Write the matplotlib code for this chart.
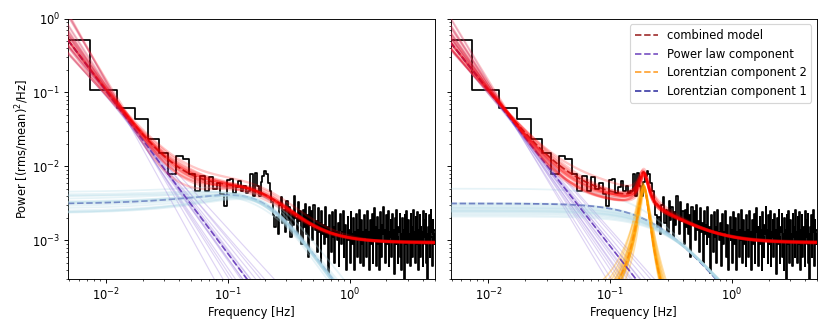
import numpy as np
import matplotlib
matplotlib.use('Agg')
import matplotlib.pyplot as plt

# ---------------- data: log-rebinned averaged power spectrum ----------------
df = 1 / 204.8          # native frequency resolution [Hz]
rebin_factor = 0.01     # logarithmic rebinning factor
power = [
    0.51, 0.107, 0.062, 0.0436, 0.0232, 0.0153, 0.0079, 0.0138, 0.0126, 0.0080,
    0.0046, 0.0074, 0.0046, 0.0072, 0.0049, 0.0060, 0.0042, 0.0029, 0.0066, 0.0068,
    0.0044, 0.0053, 0.0064, 0.0047, 0.0055, 0.0044, 0.0047, 0.0080, 0.0040, 0.0081,
    0.0054, 0.0040, 0.0062, 0.0074, 0.0086, 0.0078, 0.0060, 0.0046, 0.0033, 0.0022,
    0.0015,
    0.0021, 0.0012, 0.0030, 0.0039, 0.0017, 0.0026, 0.0013, 0.0034, 0.0019,
    0.0028, 0.0011, 0.0024, 0.0016, 0.0040, 0.0020, 0.0012, 0.0033, 0.0018, 0.0025,
    0.0009, 0.0026, 0.0015, 0.0031, 0.0012, 0.0022, 0.0006, 0.0028, 0.0016, 0.0025,
    0.0010, 0.0030, 0.0014, 0.0018, 0.0007, 0.0027, 0.0013, 0.0017, 0.0005, 0.0025,
    0.0012, 0.0016, 0.0009, 0.0028, 0.0011, 0.0015, 0.00036, 0.0022, 0.0013, 0.0007,
    0.0024, 0.0011, 0.0015, 0.0005, 0.0026, 0.0013, 0.0010, 0.0017, 0.00045, 0.0014,
    0.0023, 0.0009, 0.0013, 0.0025, 0.0006, 0.0012, 0.0016, 0.0004, 0.0011, 0.0021,
    0.0010, 0.0014, 0.0005, 0.0024, 0.0012, 0.0009, 0.0020, 0.0004, 0.0013, 0.0011,
    0.0023, 0.0006, 0.0014, 0.0010, 0.0026, 0.0005, 0.0012, 0.0019, 0.0009, 0.0013,
    0.00045, 0.0022, 0.0011, 0.0014, 0.0006, 0.0025, 0.0010, 0.0013, 0.0004, 0.0019,
    0.0011, 0.0009, 0.0023, 0.0005, 0.0013, 0.0027, 0.0010, 0.0015, 0.00045, 0.0012,
    0.0021, 0.0009, 0.0014, 0.0004, 0.0024, 0.0011, 0.0006, 0.0016, 0.0012, 0.0028,
    0.0010, 0.0014, 0.0005, 0.0022, 0.0012, 0.0009, 0.0025, 0.00045, 0.0013, 0.0011,
    0.0019, 0.0006, 0.0023, 0.0010, 0.0014, 0.00035, 0.0012, 0.0020, 0.0009, 0.0026,
    0.0011, 0.0005, 0.0015, 0.0013, 0.0023, 0.0006, 0.0012, 0.0004, 0.0020, 0.0010,
    0.0014, 0.00028, 0.0022, 0.0011, 0.0009, 0.0025, 0.0005, 0.0013, 0.0019, 0.0010,
    0.0012, 0.00045, 0.0023, 0.0011, 0.0015, 0.0006, 0.0026, 0.0010, 0.0013, 0.0005,
    0.0021, 0.0011, 0.0009, 0.0024, 0.0004, 0.0014, 0.0012, 0.0022, 0.0006, 0.0015,
    0.0010, 0.0013, 0.00045, 0.0025, 0.0011, 0.0019, 0.0009, 0.0023, 0.0005, 0.0012,
    0.00029, 0.0015, 0.0010, 0.0022, 0.0006, 0.0013, 0.0026, 0.0011, 0.00045, 0.0019,
    0.0012, 0.0009, 0.0014]

power = np.array(power)
growth = (1 + rebin_factor) ** np.arange(len(power))
freq = df * (growth * (0.5 + 1 / rebin_factor) - (1 / rebin_factor - 0.5))

# ---------------- model parameters ----------------
PIVOT = 0.015
# left panel: power law + Lorentzian 1 + constant
left_best_pl = (0.043, 2.2)
left_best_l1 = (4.1e-3, 0.10, 0.175)
left_best_c = 9.3e-4
left_pl_amp = [0.043, 0.046, 0.040, 0.044, 0.041, 0.045, 0.039, 0.047, 0.042, 0.044, 0.040, 0.046, 0.043, 0.041, 0.045, 0.044]
left_pl_idx = [2.2, 2.0, 2.4, 2.6, 1.9, 2.3, 2.1, 2.8, 2.5, 1.8, 2.25, 2.35, 2.05, 3.0, 2.15, 2.2]
left_l1_amp = [4.1e-3, 5.2e-3, 3.6e-3, 4.0e-3, 3.8e-3, 4.5e-3, 3.9e-3, 4.3e-3, 4.2e-3, 3.7e-3, 4.6e-3, 4.0e-3, 4.4e-3, 4.4e-3, 4.1e-3, 4.0e-3]
left_l1_f0 = [0.10, 0.08, 0.12, 0.09, 0.11, 0.07, 0.13, 0.10, 0.05, 0.12, 0.06, 0.11, 0.08, 0.14, 0.09, 0.10]
left_l1_g = [0.175, 0.20, 0.16, 0.18, 0.17, 0.19, 0.16, 0.17, 0.19, 0.17, 0.18, 0.175, 0.17, 0.15, 0.185, 0.175]
left_const = [9.3e-4, 9.1e-4, 9.5e-4, 9.2e-4, 9.4e-4, 9.0e-4, 9.6e-4, 9.3e-4, 9.2e-4, 9.4e-4, 9.1e-4, 9.5e-4, 9.3e-4, 9.2e-4, 9.4e-4, 9.3e-4]

# right panel: power law + Lorentzian 1 + Lorentzian 2 (QPO) + constant
right_best_pl = (0.0448, 2.1)
right_best_l1 = (3.15e-3, 0.0, 0.24)
right_best_l2 = (5.3e-3, 0.188, 0.017)
right_best_c = 9.3e-4
right_pl_amp = [0.045, 0.047, 0.043, 0.046, 0.044, 0.045, 0.042, 0.046, 0.044, 0.047, 0.043, 0.045, 0.046, 0.044, 0.045, 0.044]
right_pl_idx = [2.1, 1.9, 2.3, 2.5, 1.95, 2.2, 2.0, 2.75, 2.4, 1.85, 2.15, 2.35, 2.05, 2.6, 2.25, 2.1]
right_l1_amp = [2.7e-3, 2.3e-3, 3.0e-3, 2.5e-3, 5.0e-3, 2.2e-3, 2.8e-3, 3.2e-3, 2.4e-3, 2.6e-3, 2.9e-3, 2.1e-3, 3.1e-3, 2.55e-3, 2.75e-3, 2.45e-3]
right_l1_g = [0.27, 0.30, 0.25, 0.28, 0.19, 0.31, 0.26, 0.24, 0.29, 0.27, 0.26, 0.32, 0.25, 0.28, 0.265, 0.29]
right_l2_amp = [5.3e-3, 5.0e-3, 5.8e-3, 4.8e-3, 5.5e-3, 6.0e-3, 5.1e-3, 4.6e-3, 5.4e-3, 5.2e-3, 4.9e-3, 5.6e-3, 5.0e-3, 5.3e-3, 5.5e-3, 4.7e-3]
right_l2_f0 = [0.188, 0.190, 0.186, 0.192, 0.189, 0.185, 0.191, 0.187, 0.190, 0.188, 0.189, 0.187, 0.190, 0.189, 0.188, 0.191]
right_l2_g = [0.017, 0.016, 0.018, 0.015, 0.019, 0.020, 0.017, 0.026, 0.016, 0.018, 0.017, 0.0175, 0.022, 0.016, 0.017, 0.019]
right_const = [9.3e-4, 9.1e-4, 9.5e-4, 9.2e-4, 9.4e-4, 9.0e-4, 9.6e-4, 9.3e-4, 9.2e-4, 9.4e-4, 9.1e-4, 9.5e-4, 9.3e-4, 9.2e-4, 9.4e-4, 9.3e-4]

legend_labels = ['combined model', 'Power law component', 'Lorentzian component 2', 'Lorentzian component 1']


def powerlaw(f, amp, idx):
    return amp * (f / PIVOT) ** (-idx)


def lorentz(f, amp, f0, g):
    return amp * g ** 2 / ((f - f0) ** 2 + g ** 2)


fgrid = np.geomspace(freq[0] * 0.9, 5.5, 3000)

fig = plt.figure(figsize=(10, 4), dpi=83)
ax1 = fig.add_axes([0.0819, 0.1596, 0.4422, 0.7846])
ax2 = fig.add_axes([0.5428, 0.1596, 0.4416, 0.7846], sharey=ax1)

C_COMB = 'darkred'
C_PL = '#5b2bb5'
C_L2 = 'darkorange'
C_L1 = 'darkblue'

for ax in (ax1, ax2):
    ax.step(freq, power, where='mid', color='black', lw=1.5, zorder=1)

# ----- left panel -----
pl = powerlaw(fgrid, *left_best_pl)
l1 = lorentz(fgrid, *left_best_l1)
ax1.plot(fgrid, pl + l1 + left_best_c, ls='--', color=C_COMB, lw=1.5, alpha=0.8, zorder=2)
ax1.plot(fgrid, l1, ls='--', color=C_L1, lw=1.5, alpha=0.75, zorder=2)
for i in range(len(left_pl_amp)):
    p = powerlaw(fgrid, left_pl_amp[i], left_pl_idx[i])
    l = lorentz(fgrid, left_l1_amp[i], left_l1_f0[i], left_l1_g[i])
    ax1.plot(fgrid, l, color='lightblue', lw=1.5, alpha=0.3, zorder=3)
    ax1.plot(fgrid, p, color='mediumpurple', lw=1, alpha=0.3, zorder=3)
    ax1.plot(fgrid, p + l + left_const[i], color='red', lw=2, alpha=0.22, zorder=5)
ax1.plot(fgrid, pl, ls='--', color=C_PL, lw=1.5, alpha=0.8, zorder=4)

# ----- right panel -----
pl = powerlaw(fgrid, *right_best_pl)
l1 = lorentz(fgrid, *right_best_l1)
l2 = lorentz(fgrid, *right_best_l2)
h_comb, = ax2.plot(fgrid, pl + l1 + l2 + right_best_c, ls='--', color=C_COMB, lw=1.5, alpha=0.8, zorder=2)
h_l1, = ax2.plot(fgrid, l1, ls='--', color=C_L1, lw=1.5, alpha=0.75, zorder=2)
for i in range(len(right_pl_amp)):
    p = powerlaw(fgrid, right_pl_amp[i], right_pl_idx[i])
    la = lorentz(fgrid, right_l1_amp[i], 0.0, right_l1_g[i])
    lb = lorentz(fgrid, right_l2_amp[i], right_l2_f0[i], right_l2_g[i])
    ax2.plot(fgrid, la, color='lightblue', lw=1.5, alpha=0.3, zorder=3)
    ax2.plot(fgrid, p, color='mediumpurple', lw=1, alpha=0.3, zorder=3)
    ax2.plot(fgrid, lb, color='orange', lw=1.5, alpha=0.35, zorder=3)
    ax2.plot(fgrid, p + la + lb + right_const[i], color='red', lw=2, alpha=0.22, zorder=5)
h_pl, = ax2.plot(fgrid, pl, ls='--', color=C_PL, lw=1.5, alpha=0.8, zorder=4)
h_l2, = ax2.plot(fgrid, l2, ls='--', color=C_L2, lw=1.5, alpha=0.8, zorder=4)

for ax in (ax1, ax2):
    ax.set_xscale('log')
    ax.set_yscale('log')
    ax.set_xlim(freq[0], 5.0)
    ax.set_xlabel('Frequency [Hz]', fontsize=10, labelpad=2)
ax1.set_ylim(3e-4, 1.0)
ax1.set_ylabel('Power [(rms/mean)$^2$/Hz]', fontsize=10, labelpad=1)
ax2.tick_params(labelleft=False)

ax2.legend([h_comb, h_pl, h_l2, h_l1], legend_labels, loc='upper right', fontsize=10)

fig.savefig('out.png', dpi=83)
